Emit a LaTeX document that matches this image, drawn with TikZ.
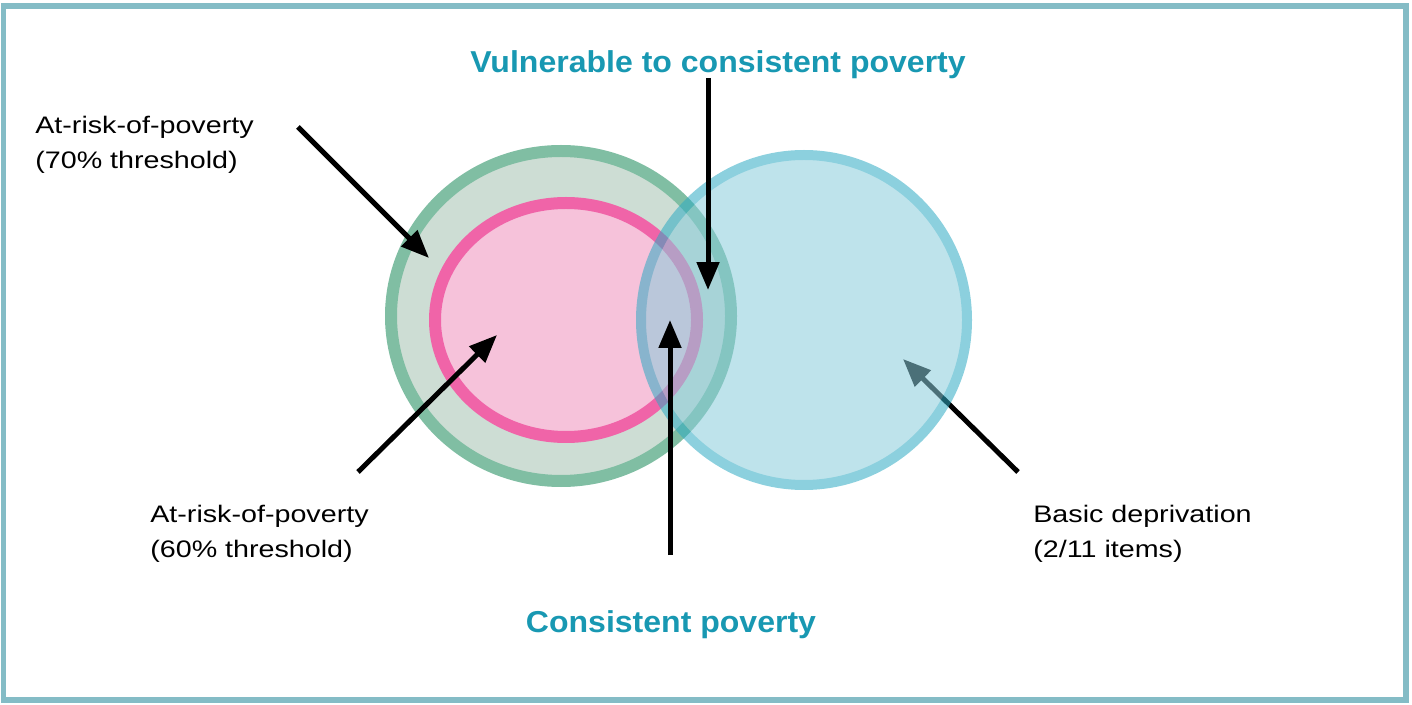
\documentclass[tikz,border=0pt]{standalone}
\usepackage{fontspec}
\setmainfont{Liberation Sans}
\newfontfamily\labelfont[FakeStretch=1.2]{Liberation Sans}
\newfontfamily\titlefont[FakeStretch=1.06]{Liberation Sans}
\usetikzlibrary{arrows.meta}
\definecolor{frameblue}{RGB}{132,188,198}
\definecolor{ringgreen}{RGB}{128,190,163}
\definecolor{fillgreen}{RGB}{205,221,212}
\definecolor{ringpink}{RGB}{240,100,168}
\definecolor{fillpink}{RGB}{246,194,218}
\definecolor{ringblue}{RGB}{46,170,195}
\definecolor{fillblue}{RGB}{137,204,219}
\definecolor{titleteal}{RGB}{24,152,178}

\tikzset{
	pointer/.style={line width=0.1cm, color=black, -{Triangle[length=0.56cm, width=0.44cm]}},
	labeltext/.style={inner sep=0pt, align=left, font=\labelfont\fontsize{13.6}{20}\selectfont},
	titletext/.style={inner sep=0pt, color=titleteal, font=\titlefont\fontsize{17.2}{20}\selectfont\bfseries},
}

\begin{document}
\begin{tikzpicture}[x=0.02cm, y=-0.02cm]
		%%%%% START %%%%%
		\useasboundingbox (0, 0) rectangle (1412, 705);
		\draw[line width=0.12cm, color=frameblue] (3.5, 6.5) rectangle (1406, 700);
		
		% the three sets
		\draw[line width=0.24cm, color=ringgreen, fill=fillgreen] (561, 316) ellipse [x radius=170, y radius=165];
		\draw[line width=0.24cm, color=ringpink, fill=fillpink] (566, 320) ellipse [x radius=131, y radius=117];
		
		\coordinate (depTail) at (1018, 472);
		\coordinate (depTip) at (903, 359);
		\draw[pointer] (depTail) -- (depTip);
		
		\begin{scope}[transparency group, opacity=0.55]
			\draw[line width=0.2cm, draw=ringblue, fill=fillblue] (804, 320) ellipse [x radius=163, y radius=165];
		\end{scope}
		
		% labels
		\node[titletext] (vulnTitle) at (718, 65) {Vulnerable to consistent poverty};
		\node[titletext] (consTitle) at (671, 625) {Consistent poverty};
		\node[labeltext, anchor=north west] (risk70) at (35, 116) {At-risk-of-poverty\\(70\% threshold)};
		\node[labeltext, anchor=north west] (risk60) at (150, 505) {At-risk-of-poverty\\(60\% threshold)};
		\node[labeltext, anchor=north west] (basicDep) at (1033, 505) {Basic deprivation\\(2/11 items)};
		
		% pointers
		\coordinate (r70Tail) at (298, 127);
		\coordinate (r70Tip) at (429, 258);
		\draw[pointer] (r70Tail) -- (r70Tip);
		
		\coordinate (r60Tail) at (358, 472);
		\coordinate (r60Tip) at (497, 335);
		\draw[pointer] (r60Tail) -- (r60Tip);
		
		\coordinate (consTail) at (670, 555);
		\coordinate (consTip) at (670, 320);
		\draw[pointer] (consTail) -- (consTip);
		
		\coordinate (vulnTail) at (708, 78);
		\coordinate (vulnTip) at (708, 290);
		\draw[pointer] (vulnTail) -- (vulnTip);
		%%%%% END %%%%%
\end{tikzpicture}
\end{document}
